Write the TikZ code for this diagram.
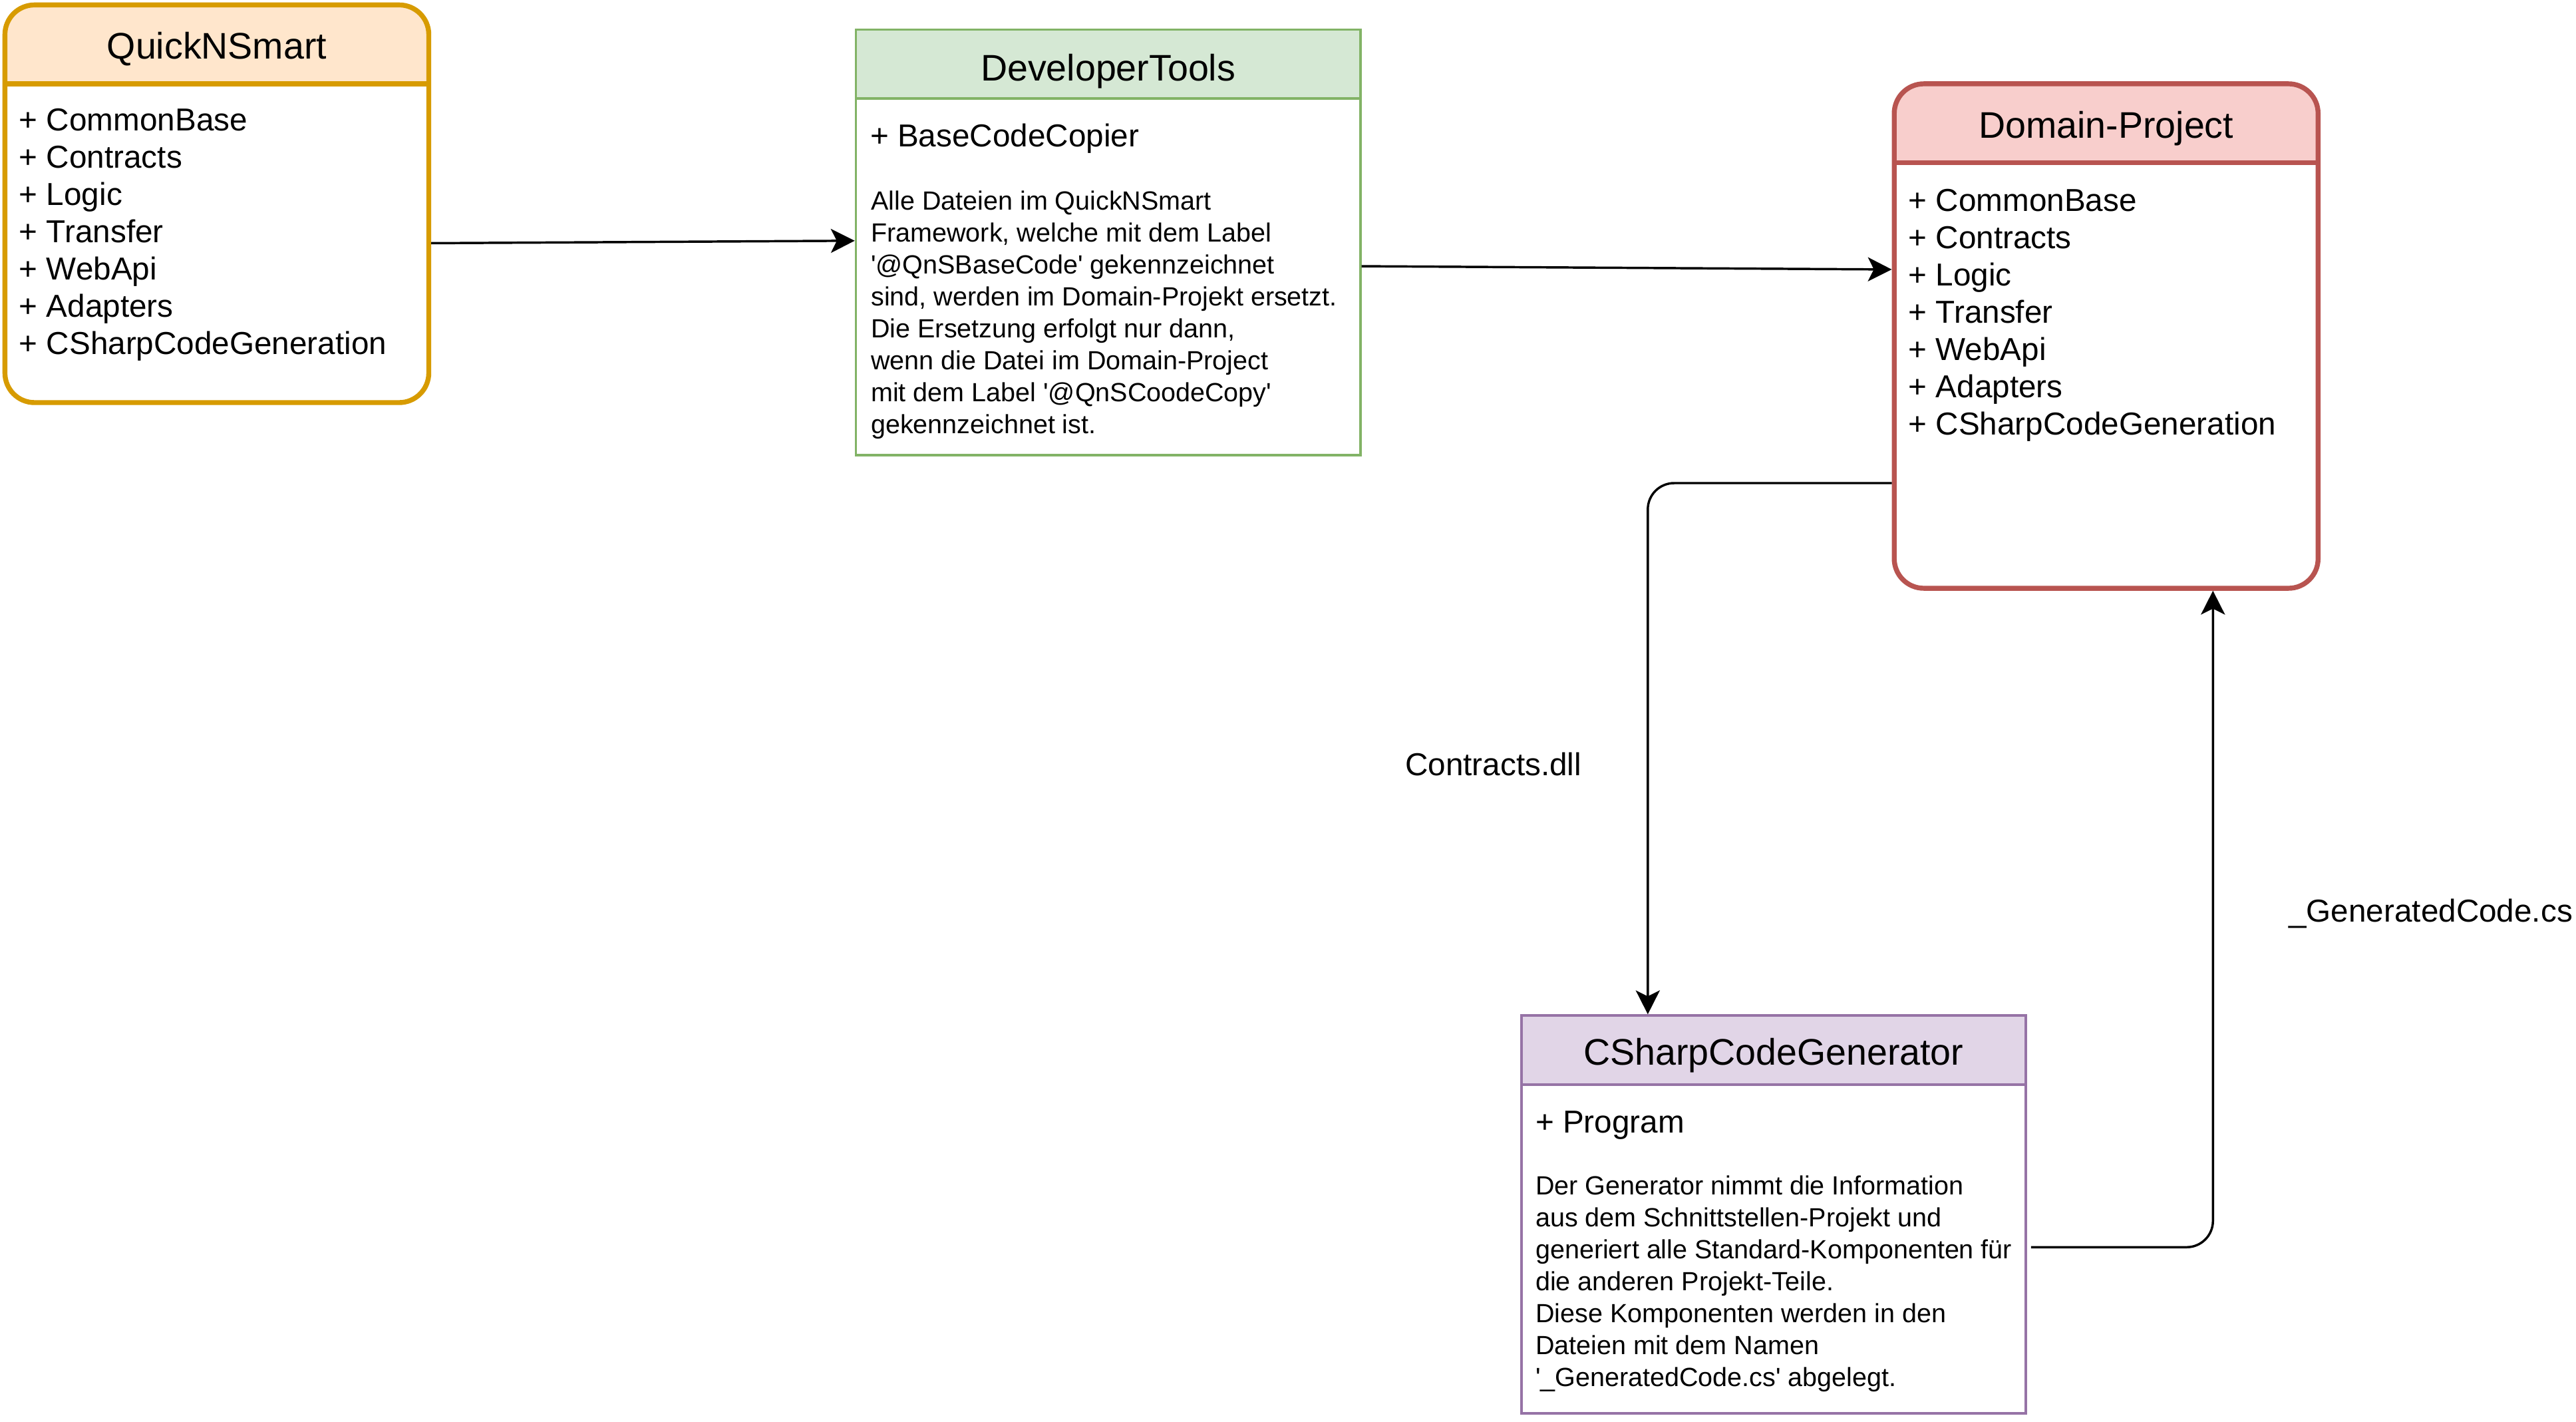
\documentclass[tikz,border=0pt]{standalone}
\usepackage{fontspec}
\newfontfamily\lsans{Liberation Sans}
\usetikzlibrary{arrows.meta,calc}
\definecolor{qnsline}{HTML}{D79B00}
\definecolor{qnsfill}{HTML}{FFE6CC}
\definecolor{devline}{HTML}{82B366}
\definecolor{devfill}{HTML}{D5E8D4}
\definecolor{domline}{HTML}{B85450}
\definecolor{domfill}{HTML}{F8CECC}
\definecolor{csgline}{HTML}{9673A6}
\definecolor{csgfill}{HTML}{E1D5E7}
\tikzset{
  thickbox/.style={draw, line width=3pt, rounded corners=18pt, inner sep=0pt},
  thinbox/.style={draw, line width=1.5pt, inner sep=0pt},
  conn/.style={draw=black, line width=1.4pt, -{Stealth[length=14.5pt,width=14.6pt,inset=3.6pt]}},
  titletext/.style={anchor=base, inner sep=0pt, font=\lsans\fontsize{22.5}{27}\selectfont},
  itemtext/.style={anchor=base west, inner sep=0pt, font=\lsans\fontsize{19.3}{22.67}\selectfont},
  paratext/.style={anchor=base west, inner sep=0pt, font=\lsans\fontsize{16}{19.45}\selectfont},
  lbltext/.style={inner sep=0pt, font=\lsans\fontsize{19.3}{23}\selectfont},
}
\begin{document}
\begin{tikzpicture}[x=1pt,y=-1pt]
\useasboundingbox (0,0) rectangle (1568,865);
\fill[white] (0,0) rectangle (1568,865);

% ---------- QuickNSmart ----------
\begin{scope}
  \clip (0,0) rectangle (264,51);
  \fill[qnsfill, rounded corners=18pt] (3,3) rectangle (261,245);
\end{scope}
\node[thickbox, draw=qnsline, minimum width=258pt, minimum height=242pt] (qns) at (132,124) {};
\draw[qnsline, line width=3pt] (3,51) -- (261,51);
\node[titletext] (qnstitle) at (132,36) {QuickNSmart};
\node[itemtext] (qnsitems) at (11.5,79.6) {\parbox[t]{300pt}{\raggedright
+ CommonBase\\+ Contracts\\+ Logic\\+ Transfer\\+ WebApi\\+ Adapters\\+ CSharpCodeGeneration}};

% ---------- DeveloperTools ----------
\fill[devfill] (521,18) rectangle (828,60);
\node[thinbox, draw=devline, minimum width=307pt, minimum height=259pt] (dev) at (674.5,147.5) {};
\draw[devline, line width=1.5pt] (521,60) -- (828,60);
\node[titletext] (devtitle) at (674.5,49) {DeveloperTools};
\node[itemtext] (devitems) at (529.5,89.4) {+ BaseCodeCopier};
\node[paratext] (devpara) at (530,127.8) {\parbox[t]{400pt}{\raggedright
Alle Dateien im QuickNSmart\\
Framework, welche mit dem Label\\
'@QnSBaseCode' gekennzeichnet\\
sind, werden im Domain-Projekt ersetzt.\\
Die Ersetzung erfolgt nur dann,\\
wenn die Datei im Domain-Project\\
mit dem Label '@QnSCoodeCopy'\\
gekennzeichnet ist.}};

% ---------- Domain-Project ----------
\begin{scope}
  \clip (1150,48) rectangle (1414,99);
  \fill[domfill, rounded corners=18pt] (1153,51) rectangle (1411,358);
\end{scope}
\node[thickbox, draw=domline, minimum width=258pt, minimum height=307pt] (dom) at (1282,204.5) {};
\draw[domline, line width=3pt] (1153,99) -- (1411,99);
\node[titletext] (domtitle) at (1282,84) {Domain-Project};
\node[itemtext] (domitems) at (1161.5,128.6) {\parbox[t]{300pt}{\raggedright
+ CommonBase\\+ Contracts\\+ Logic\\+ Transfer\\+ WebApi\\+ Adapters\\+ CSharpCodeGeneration}};

% ---------- CSharpCodeGenerator ----------
\fill[csgfill] (926,618) rectangle (1233,660);
\node[thinbox, draw=csgline, minimum width=307pt, minimum height=242pt] (csg) at (1079.5,739) {};
\draw[csgline, line width=1.5pt] (926,660) -- (1233,660);
\node[titletext] (csgtitle) at (1079.5,648) {CSharpCodeGenerator};
\node[itemtext] (csgitems) at (934.5,689.4) {+ Program};
\node[paratext] (csgpara) at (934.5,727) {\parbox[t]{400pt}{\raggedright
Der Generator nimmt die Information\\
aus dem Schnittstellen-Projekt und\\
generiert alle Standard-Komponenten für\\
die anderen Projekt-Teile.\\
Diese Komponenten werden in den\\
Dateien mit dem Namen\\
'\_GeneratedCode.cs' abgelegt.}};

% ---------- connectors ----------
\draw[conn] ([yshift=-24pt]qns.east) -- ([yshift=1pt]dev.west);
\draw[conn] ([yshift=-14.5pt]dev.east) -- ([yshift=40.5pt]dom.west);
\draw[conn, rounded corners=16pt] ([yshift=-89.5pt]dom.west) -| ([xshift=-76.5pt]csg.north);
\draw[conn, rounded corners=16pt] ([xshift=2.5pt,yshift=-20pt]csg.east) -| ([xshift=65pt]dom.south);

% ---------- labels ----------
\node[lbltext, anchor=base] (lblcontracts) at (909,472) {Contracts.dll};
\node[lbltext, anchor=base west] (lblgenerated) at (1393,561) {\_GeneratedCode.cs};
\end{tikzpicture}
\end{document}
